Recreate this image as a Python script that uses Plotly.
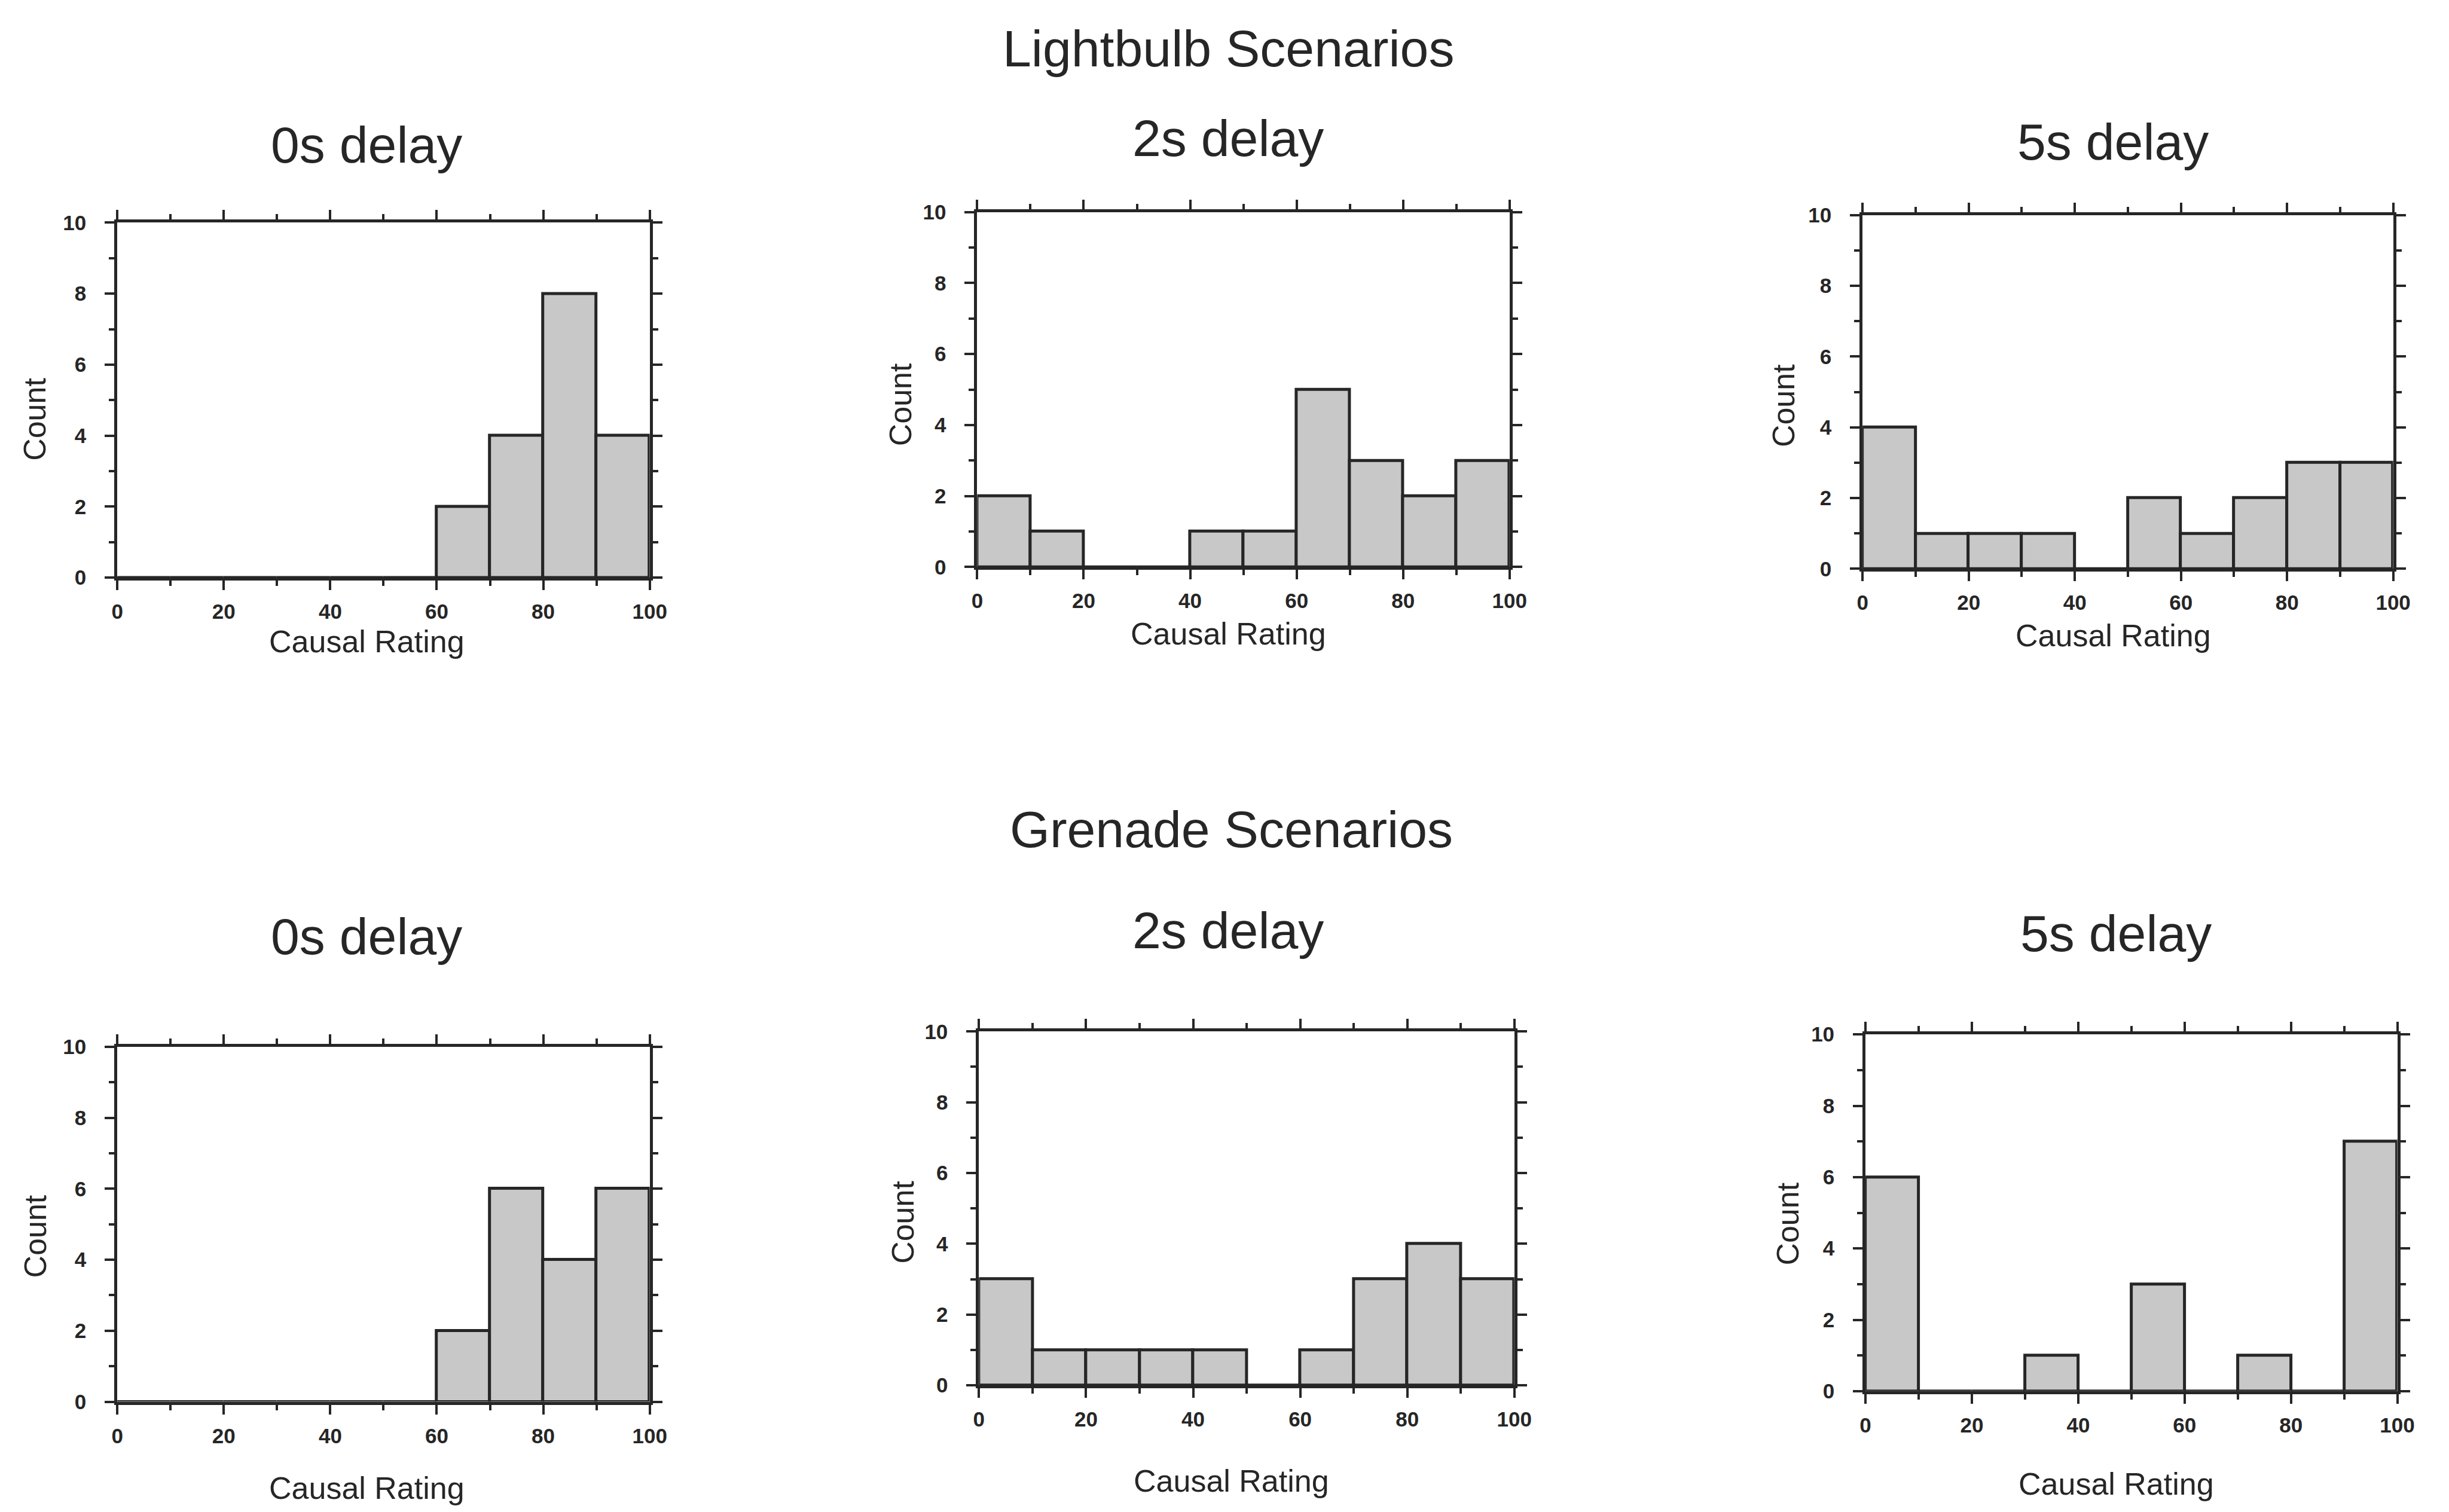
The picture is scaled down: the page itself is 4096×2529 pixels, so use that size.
import plotly.graph_objects as go

W, H = 4096, 2529

# Histogram bins of the causal rating (0-100 in steps of 10)
bin_centers = [5, 15, 25, 35, 45, 55, 65, 75, 85, 95]
bin_width = 10

# Counts per bin
lightbulb_0s = [0, 0, 0, 0, 0, 0, 2, 4, 8, 4]
lightbulb_2s = [2, 1, 0, 0, 1, 1, 5, 3, 2, 3]
lightbulb_5s = [4, 1, 1, 1, 0, 2, 1, 2, 3, 3]
grenade_0s = [0, 0, 0, 0, 0, 0, 2, 6, 4, 6]
grenade_2s = [3, 1, 1, 1, 1, 0, 1, 3, 4, 3]
grenade_5s = [6, 0, 0, 1, 0, 3, 0, 1, 0, 7]

delay_titles = ["0s delay", "2s delay", "5s delay"]
row_titles = ["Lightbulb Scenarios", "Grenade Scenarios"]
x_title = "Causal Rating"
y_title = "Count"
x_ticks = [0, 20, 40, 60, 80, 100]
y_ticks = [0, 2, 4, 6, 8, 10]

panels = [lightbulb_0s, lightbulb_2s, lightbulb_5s,
          grenade_0s, grenade_2s, grenade_5s]

# Plot-area boxes in pixels: (left, right, top, bottom)
boxes = [
    (188, 1087, 358, 961),
    (1640, 2539, 340, 943),
    (3135, 4031, 345, 946),
    (188, 1087, 1758, 2361),
    (1643, 2547, 1732, 2333),
    (3140, 4038, 1737, 2343),
]
# Label anchor points in pixels (x, y)
panel_title_pos = [(609, 225), (2064, 214), (3558, 220),
                   (609, 1570), (2064, 1560), (3563, 1565)]
x_title_pos = [(609, 1069), (2064, 1056), (3558, 1059),
               (609, 2508), (2069, 2495), (3563, 2501)]
y_title_pos = [(49, 692), (1510, 667), (3001, 669),
               (49, 2080), (1515, 2056), (3009, 2059)]
row_title_pos = [(2064, 62), (2069, 1388)]

INK = "#262626"
FONT = "Liberation Sans, Arial, Helvetica, sans-serif"

fig = go.Figure()
layout = dict(
    width=W, height=H,
    margin=dict(l=0, r=0, t=0, b=0),
    paper_bgcolor="white", plot_bgcolor="white",
    showlegend=False,
    font=dict(family=FONT, color=INK),
    bargap=0,
)


def px(x):
    return x / W


def py(y):
    return 1 - y / H


def label(text, pos, size, angle=0):
    return dict(
        text=text, x=px(pos[0]), y=py(pos[1]),
        xref="paper", yref="paper", xanchor="center", yanchor="middle",
        textangle=angle, showarrow=False,
        font=dict(size=size, color=INK, family=FONT),
    )


annotations = []
for i, (counts, (l, r, t, b)) in enumerate(zip(panels, boxes)):
    n = i + 1
    xa = "x" if n == 1 else f"x{n}"
    ya = "y" if n == 1 else f"y{n}"
    fig.add_trace(go.Bar(
        x=bin_centers, y=counts, width=bin_width,
        xaxis=xa, yaxis=ya,
        marker=dict(color="#c8c8c8", line=dict(color=INK, width=5)),
        hoverinfo="skip",
    ))
    axis_common = dict(
        showgrid=False, zeroline=False,
        showline=True, linecolor=INK, linewidth=5,
        mirror="ticks", ticks="outside", ticklen=16, tickwidth=4,
        tickcolor=INK,
        tickfont=dict(size=35, color=INK, family=FONT, weight="bold"),
    )
    layout[f"xaxis{'' if n == 1 else n}"] = dict(
        axis_common,
        domain=[px(l), px(r)], anchor=ya, range=[0, 100],
        tickvals=x_ticks, ticklabelstandoff=6,
        minor=dict(tickvals=[10, 30, 50, 70, 90], ticks="outside",
                   ticklen=9, tickwidth=4, tickcolor=INK),
    )
    layout[f"yaxis{'' if n == 1 else n}"] = dict(
        axis_common,
        domain=[py(b), py(t)], anchor=xa, range=[0, 10],
        tickvals=y_ticks, ticklabelstandoff=24,
        minor=dict(tickvals=[1, 3, 5, 7, 9], ticks="outside",
                   ticklen=9, tickwidth=4, tickcolor=INK),
    )

    annotations.append(label(delay_titles[i % 3], panel_title_pos[i], 86))
    annotations.append(label(x_title, x_title_pos[i], 52))
    annotations.append(label(y_title, y_title_pos[i], 52, angle=-90))

for text, pos in zip(row_titles, row_title_pos):
    annotations.append(label(text, pos, 86))

layout["annotations"] = annotations
fig.update_layout(**layout)
fig.write_html("out.html")
